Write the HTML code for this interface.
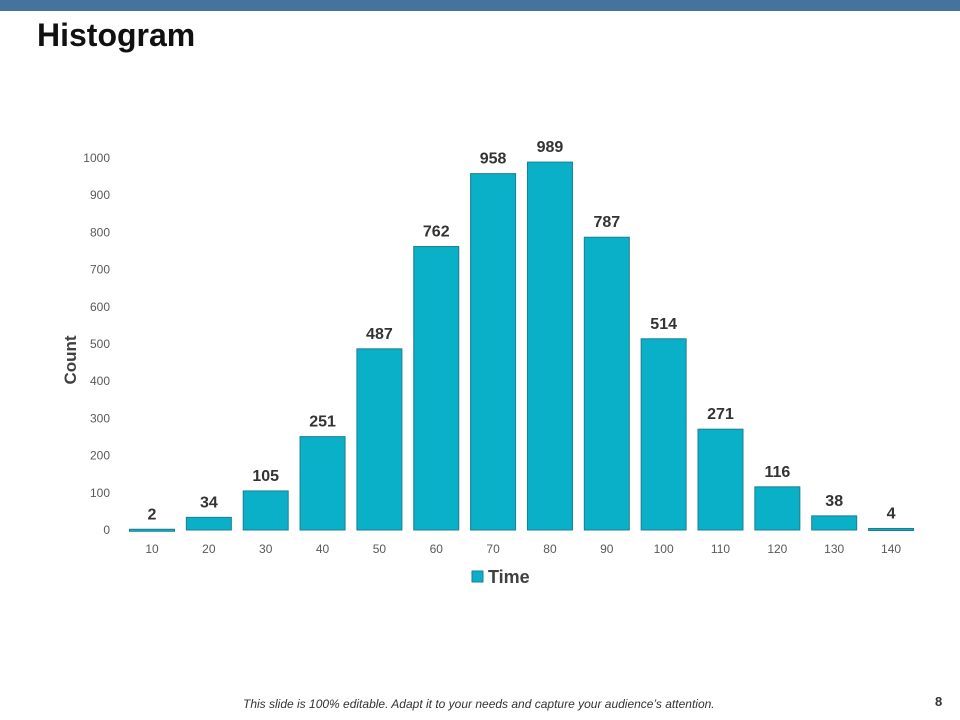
<!DOCTYPE html>
<html><head><meta charset="utf-8"><style>
html,body{margin:0;padding:0;background:#fff;}
body{width:960px;height:720px;position:relative;overflow:hidden;font-family:"Liberation Sans",sans-serif;}
</style></head><body>
<div style="position:absolute;left:0;top:0;width:960px;height:11px;background:#44739b;"></div>
<div style="position:absolute;left:37px;top:17px;font-size:32px;font-weight:bold;color:#111;">Histogram</div>
<svg id="chart" width="960" height="720" style="position:absolute;left:0;top:0"></svg>
<div style="position:absolute;left:243px;top:697px;font-size:12px;font-style:italic;color:#333;">This slide is 100% editable. Adapt it to your needs and capture your audience’s attention.</div>
<div style="position:absolute;left:935px;top:694px;font-size:13px;font-weight:bold;color:#333;">8</div>
<script>
const categories=[10,20,30,40,50,60,70,80,90,100,110,120,130,140];
const counts=[2,34,105,251,487,762,958,989,787,514,271,116,38,4];
const yTicks=[0,100,200,300,400,500,600,700,800,900,1000];
const NS="http://www.w3.org/2000/svg";
const svg=document.getElementById('chart');
const y0=530,pxPer=0.372;
function yScale(v){return y0-v*pxPer;}
const step=56.85,firstC=152;
function xScale(i){return firstC+i*step;}
function mk(t,a,txt){const e=document.createElementNS(NS,t);for(const k in a)e.setAttribute(k,a[k]);if(txt!==undefined)e.textContent=txt;svg.appendChild(e);return e;}
yTicks.forEach(v=>{
  const t=mk('text',{x:110,y:yScale(v)+4,'text-anchor':'end','font-size':12,fill:'#595959','font-family':'Liberation Sans, sans-serif'},v);
  
  
});
categories.forEach((c,i)=>{
  const cx=xScale(i),w=45,v=counts[i];
  const r=mk('rect',{x:cx-w/2,y:yScale(v),width:w,height:Math.max(v*pxPer,2),fill:'#0aafc8',stroke:'#1b7f8f','stroke-width':1});
  
  
  const l=mk('text',{x:cx,y:yScale(v)-10,'text-anchor':'middle','font-size':16,'font-weight':'bold',fill:'#333','font-family':'Liberation Sans, sans-serif'},v);
  
  
  const xt=mk('text',{x:cx,y:553,'text-anchor':'middle','font-size':12,fill:'#595959','font-family':'Liberation Sans, sans-serif'},c);
  
  
});
const yt=mk('text',{x:0,y:0,transform:'translate(76,360) rotate(-90)','text-anchor':'middle','font-size':17,'font-weight':'bold',fill:'#404040','font-family':'Liberation Sans, sans-serif'},'Count');


const lg=mk('rect',{x:472,y:571,width:11,height:11,fill:'#0aafc8',stroke:'#1b7f8f'});


const lt=mk('text',{x:488,y:583,'font-size':18,'font-weight':'bold',fill:'#404040','font-family':'Liberation Sans, sans-serif'},'Time');


</script>
</body></html>
